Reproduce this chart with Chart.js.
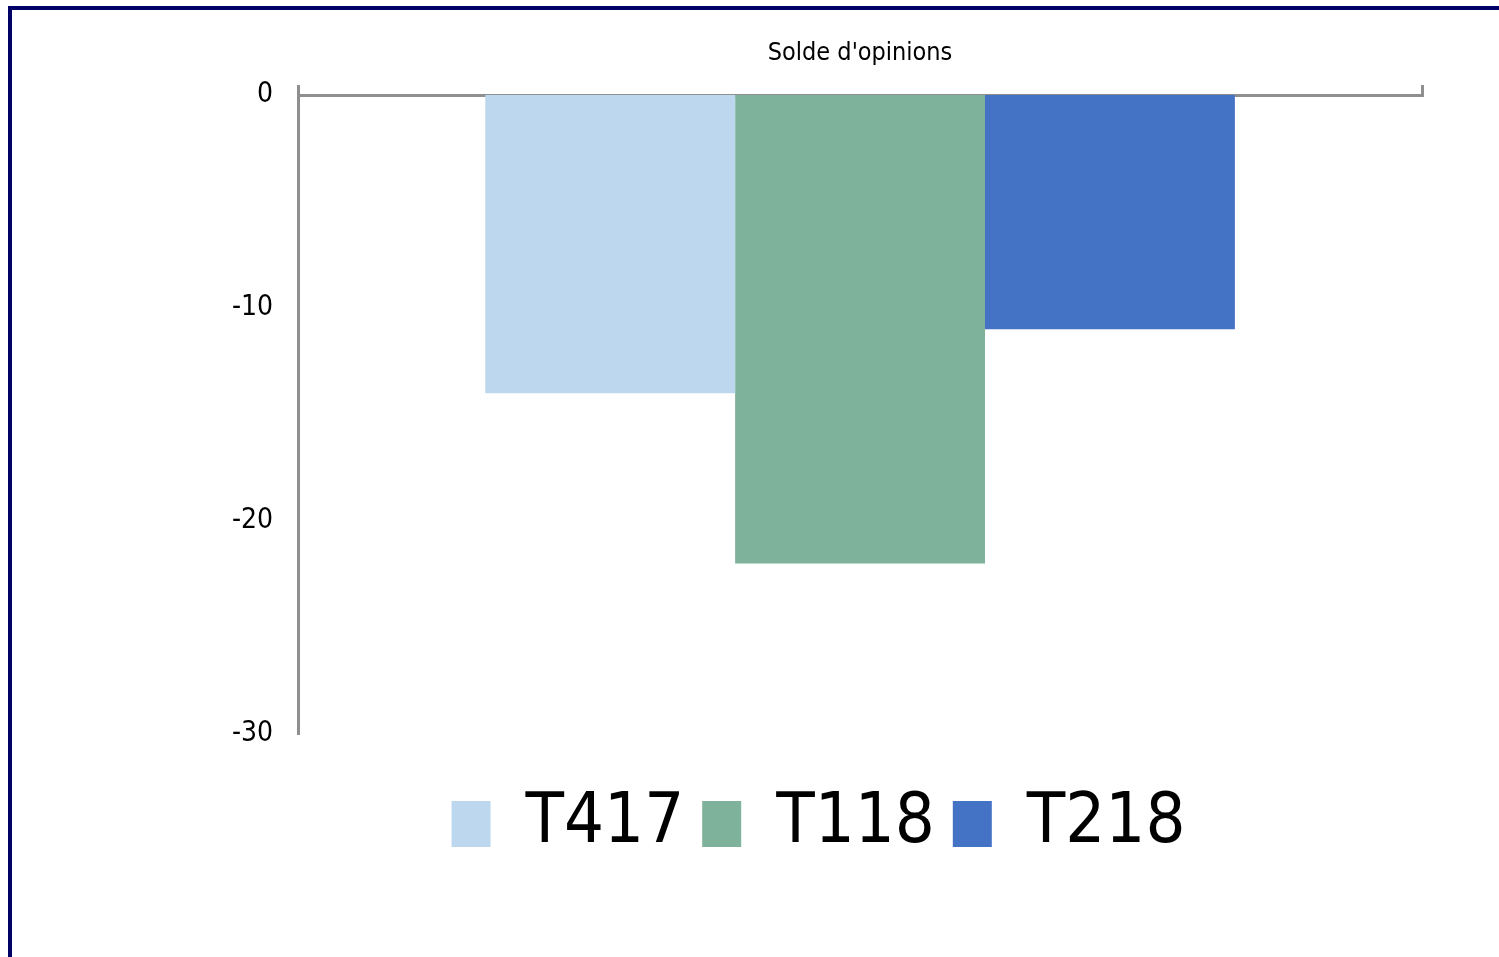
<!DOCTYPE html>
<html>
<head>
<meta charset="utf-8">
<script src="https://cdn.jsdelivr.net/npm/chart.js@4/dist/chart.umd.min.js"></script>
<style>
  html, body { margin: 0; padding: 0; background: #fff; overflow: hidden; }
  #wrap { position: relative; width: 1499px; height: 957px; }
  #frame {
    position: absolute; left: 8px; top: 6px; right: -10px; bottom: -10px;
    border-top: 4px solid #000066; border-left: 4px solid #000066;
    pointer-events: none;
  }
  canvas { position: absolute; left: 0; top: 0; }
</style>
</head>
<body>
<div id="wrap">
  <canvas id="chart" width="1499" height="957"></canvas>
  <div id="frame"></div>
</div>
<script>
// ---- data ----
const categories = ["Solde d'opinions"];
const seriesNames = ['T417', 'T118', 'T218'];
const seriesValues = [[-14], [-22], [-11]];
const seriesColors = ['#BDD7EE', '#7FB29A', '#4472C4'];
const yTicks = [0, -10, -20, -30];

const FONT = "'Liberation Sans Narrow', 'DejaVu Sans Condensed', 'Open Sans', sans-serif";
const AXIS_GREY = '#8f8f8f';

Chart.defaults.font.family = FONT;
Chart.defaults.color = '#000';

new Chart(document.getElementById('chart'), {
  type: 'bar',
  data: {
    labels: categories,
    datasets: seriesNames.map((name, i) => ({
      label: name,
      data: seriesValues[i],
      backgroundColor: seriesColors[i],
      borderWidth: 0,
      barPercentage: 1,
      categoryPercentage: 0.667,
    })),
  },
  options: {
    responsive: false,
    animation: false,
    layout: { padding: { left: 215, right: 77, top: 21, bottom: 88 } },
    plugins: {
      tooltip: { enabled: false },
      legend: {
        position: 'bottom',
        // empty title only used as a spacer above the legend items
        title: { display: true, text: '', font: { size: 10 }, padding: { top: 25, bottom: 0 } },
        labels: {
          font: { size: 70 },
          boxWidth: 39,
          boxHeight: 46,
          padding: 18,
          color: '#000',
        },
      },
    },
    scales: {
      x: {
        position: 'top',
        grid: { drawOnChartArea: false, color: AXIS_GREY, lineWidth: 3, tickLength: 10 },
        border: { color: AXIS_GREY, width: 3 },
        ticks: { font: { size: 25 }, color: '#000', padding: 17 },
      },
      y: {
        min: Math.min(...yTicks),
        max: Math.max(...yTicks),
        afterBuildTicks: s => { s.ticks = yTicks.map(v => ({ value: v })); },
        grid: { display: false },
        border: { color: AXIS_GREY, width: 3 },
        ticks: { font: { size: 28 }, color: '#000', padding: 17 },
      },
    },
  },
});
</script>
</body>
</html>
